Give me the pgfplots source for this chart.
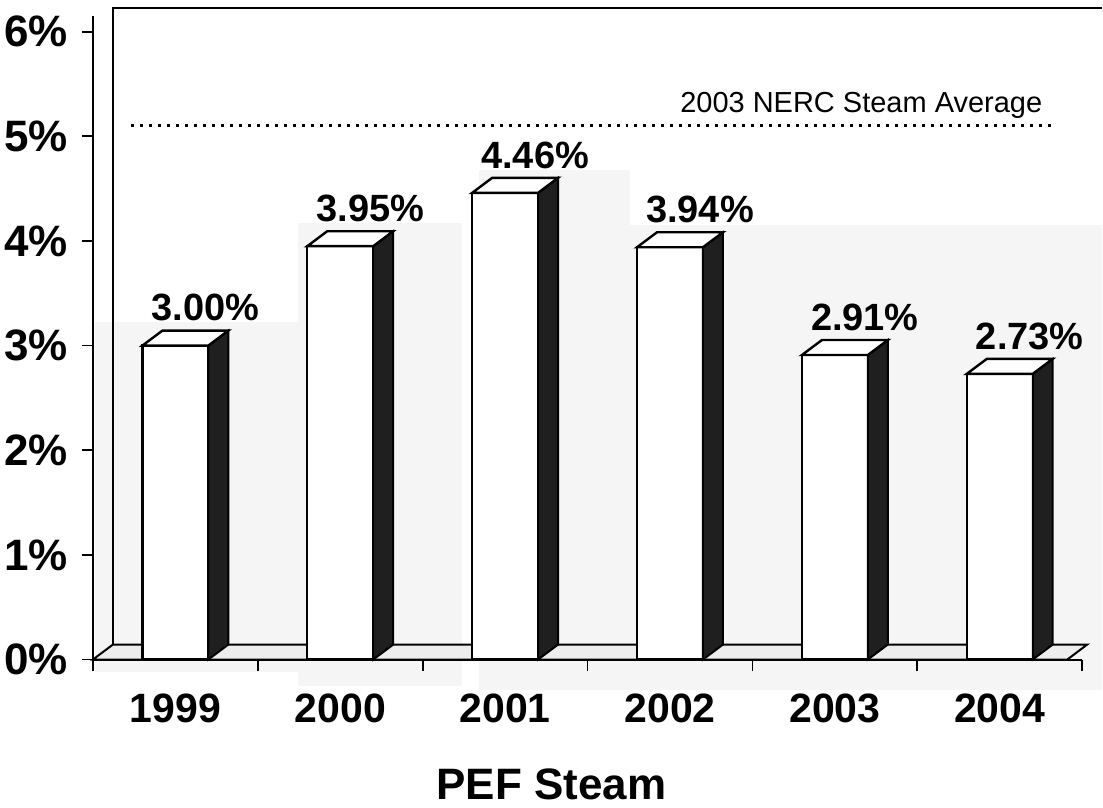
\documentclass[border=0pt]{standalone}
\usepackage{pgfplots}
\pgfplotsset{compat=1.18}
\usepackage{pgfplotstable}
\usepackage{fontspec}
\setmainfont{Liberation Sans}

% Forced outage rate, PEF steam units
\pgfplotstableread{
x val
0 3.00
1 3.95
2 4.46
3 3.94
4 2.91
5 2.73
}\efor

% depth of the 3-D bars, in axis units
\def\dx{0.121}
\def\dy{0.143}

\begin{document}
\begin{tikzpicture}
\begin{axis}[
  at={(0,0)}, anchor=south west,
  set layers,
  scale only axis, width=495pt, height=322pt,
  xmin=-0.5, xmax=5.5, ymin=0, ymax=6.15,
  clip=false,
  axis lines*=left,
  axis line style={line width=1pt},
  tick style={black, line width=0.9pt},
  tick align=outside,
  major tick length=5.5pt,
  xtick={-0.5,0.5,...,5.5},
  xticklabel=\empty,
  extra x ticks={0,1,2,3,4,5},
  extra x tick labels={1999,2000,2001,2002,2003,2004},
  extra x tick style={major tick length=0pt},
  xticklabel style={font=\fontsize{20.5}{24}\selectfont\bfseries, anchor=north, inner sep=0pt, yshift=-17pt},
  ytick={0,1,2,3,4,5,6},
  yticklabels={0\%,1\%,2\%,3\%,4\%,5\%,6\%},
  yticklabel style={font=\fontsize{22}{26}\selectfont\bfseries, anchor=east, inner sep=0pt, xshift=-7pt},
  /pgf/number format/assume math mode=true,
]
% scanned page tone
\begin{pgfonlayer}{axis background}
\fill[black!4] (axis cs:-0.485,-0.12) rectangle (axis cs:0.745,3.23);
\fill[black!4] (axis cs:0.745,-0.25) rectangle (axis cs:1.74,4.17);
\fill[black!4] (axis cs:1.84,-0.29) rectangle (axis cs:2.76,4.68);
\fill[black!4] (axis cs:2.76,-0.29) rectangle (axis cs:5.62,4.15);
\end{pgfonlayer}

% floor and back wall
\addplot[fill=gray!14, draw=black, line width=1pt, forget plot]
  coordinates {(-0.5,0) (5.41,0) (5.53,0.143) (-0.379,0.143)} -- cycle;
\addplot[black, line width=1pt, forget plot]
  coordinates {(-0.379,0.143) (-0.379,6.23) (5.62,6.23)};

% front faces of the bars with value labels
\addplot[ybar, bar width=0.4, fill=white, draw=black, line width=1.2pt,
  point meta=y,
  nodes near coords={\pgfmathprintnumber[fixed,fixed zerofill,precision=2]{\pgfplotspointmeta}\%},
  every node near coord/.append style={font=\fontsize{19}{22}\selectfont\bfseries, anchor=south, inner sep=0pt, xshift=15pt, yshift=11.5pt},
  forget plot]
  table[x=x, y=val] {\efor};

% side and top faces
\pgfplotsinvokeforeach{0,...,5}{
  \pgfplotstablegetelem{#1}{val}\of\efor
  \pgfmathsetmacro\v{\pgfplotsretval}
  \pgfmathsetmacro\xa{#1+0.2}
  \pgfmathsetmacro\xb{#1+0.2+\dx}
  \pgfmathsetmacro\xl{#1-0.2}
  \pgfmathsetmacro\xlb{#1-0.2+\dx}
  \pgfmathsetmacro\vt{\v+\dy}
  \edef\temp{%
    \noexpand\addplot[fill=black!88, draw=black, line width=1pt, forget plot]
      coordinates {(\xa,0) (\xb,\dy) (\xb,\vt) (\xa,\v)} -- cycle;
    \noexpand\addplot[fill=white, draw=black, line width=1.2pt, forget plot]
      coordinates {(\xl,\v) (\xlb,\vt) (\xb,\vt) (\xa,\v)} -- cycle;
  }\temp
}

% benchmark line
\addplot[black, line width=1.5pt, dash pattern=on 1.5pt off 3pt, forget plot]
  coordinates {(-0.27,5.1) (5.33,5.1)};
\node[anchor=south east, inner sep=0pt, font=\fontsize{14.5}{17}\selectfont]
  at (axis cs:5.26,5.17) {2003 NERC Steam Average};

\node[font=\fontsize{22}{26}\selectfont\bfseries] at (axis cs:2.28,-1.19) {PEF Steam};
\end{axis}
\useasboundingbox (-46.5pt,-74pt) rectangle (505pt,330pt);
\end{tikzpicture}
\end{document}
